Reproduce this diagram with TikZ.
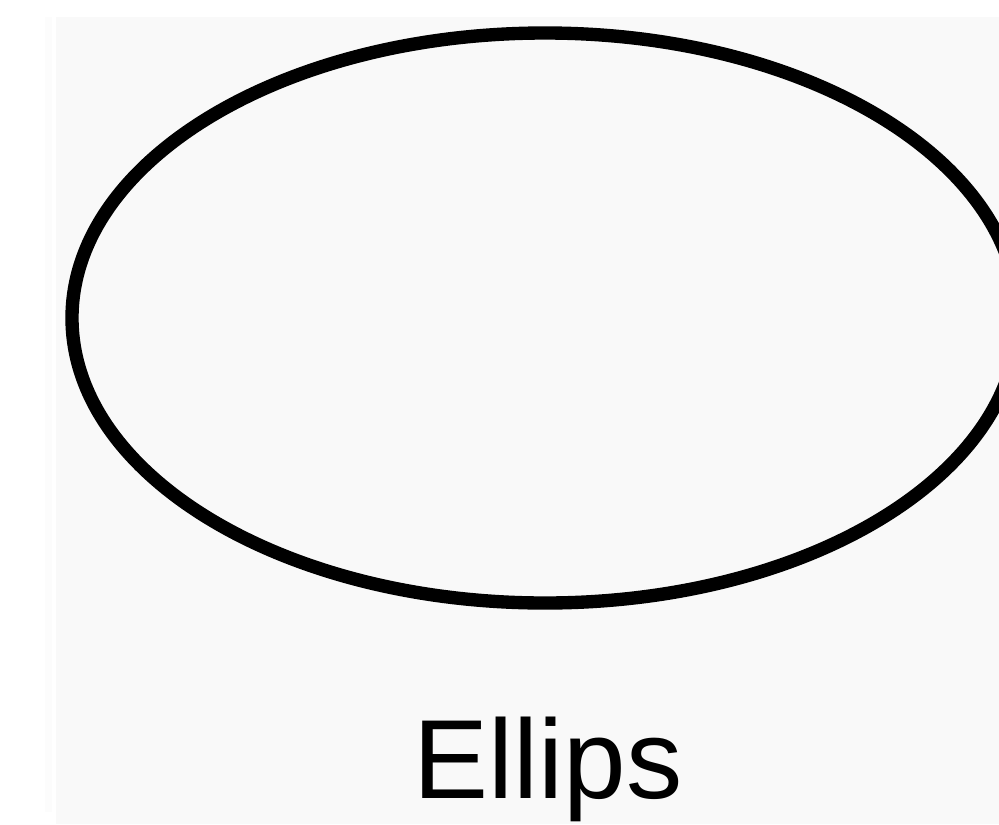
\documentclass[tikz,border=0pt]{standalone}
\usepackage{fontspec}
\setmainfont{Liberation Sans}
\usepackage{tikz}
\usetikzlibrary{
    shapes.geometric,
    positioning
}
\usepackage{xcolor}
\definecolor{paper}{RGB}{249,249,249}
\definecolor{strip}{RGB}{252,252,252}

\begin{document}
\begin{tikzpicture}[
        oval/.style={
            ellipse,
            draw=black,
            line width=7.6pt,
            minimum width=18.92cm,
            minimum height=11.4cm,
            inner sep=0pt
        },
        caption/.style={
            anchor=base,
            font=\fontsize{64}{64}\selectfont
        }
    ]
        \useasboundingbox (0,0) rectangle (19.98,-16.48);
        \clip (0,0) rectangle (19.98,-16.48);
        \fill[white] (0,0) rectangle (19.98,-16.48);
        \fill[strip] (0.9,-0.34) rectangle (1.04,-16.24);
        \fill[paper] (1.12,-0.34) rectangle (19.98,-16.48);
        \node[oval] (ell) at (10.9,-6.36) {};
        \node[caption] (name) at (10.96,-15.96) {Ellips};
    \end{tikzpicture}
\end{document}
